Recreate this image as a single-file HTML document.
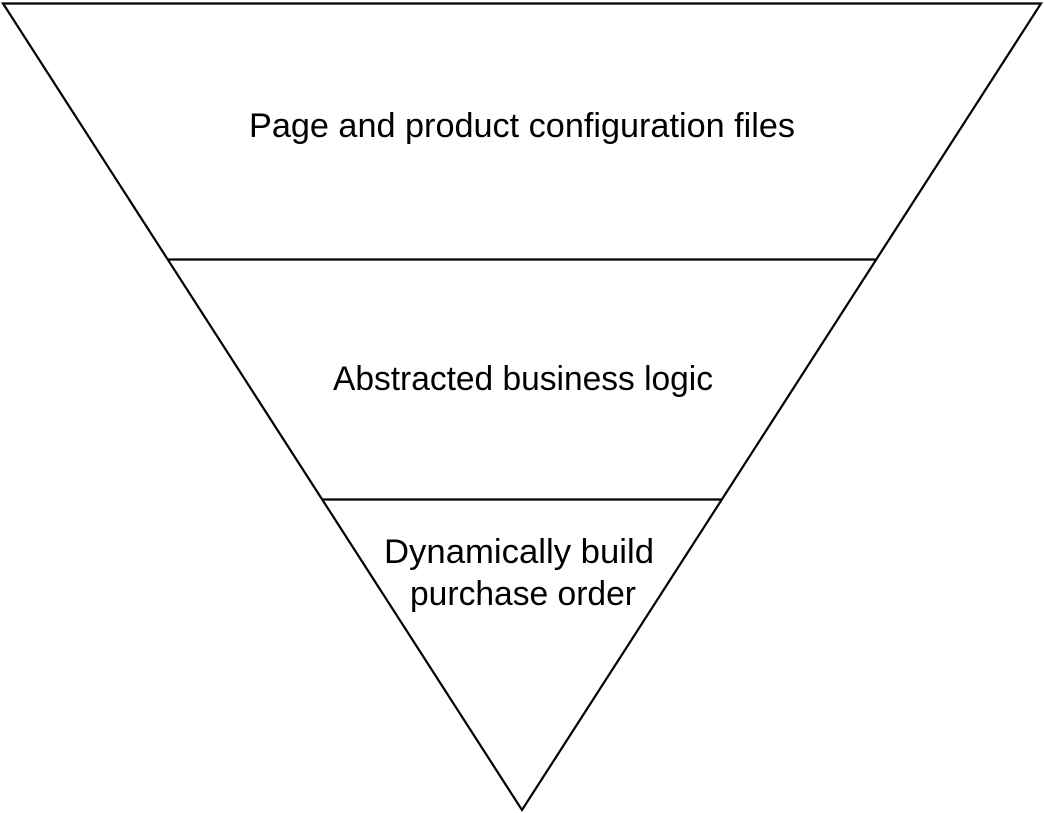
<!DOCTYPE html>
<html><head><style>html,body{margin:0;padding:0;background:#fff}svg{display:block}</style></head>
<body>
<svg width="1044" height="813" viewBox="0 0 1044 813" xmlns="http://www.w3.org/2000/svg">
<g stroke="#000" stroke-width="2.2" fill="none">
<polygon points="3,3.5 1041,3.5 522,810"/>
<line x1="168" y1="259.5" x2="877" y2="259.5"/>
<line x1="322" y1="499.5" x2="721" y2="499.5"/>
</g>
<g font-family="'Liberation Sans', sans-serif" font-size="34" fill="#000">
<text x="249" y="137" textLength="546" lengthAdjust="spacingAndGlyphs">Page and product configuration files</text>
<text x="333" y="390" textLength="380" lengthAdjust="spacingAndGlyphs">Abstracted business logic</text>
<text x="384" y="563" textLength="270" lengthAdjust="spacingAndGlyphs">Dynamically build</text>
<text x="410" y="605" textLength="226" lengthAdjust="spacingAndGlyphs">purchase order</text>
</g>
</svg>
</body></html>
